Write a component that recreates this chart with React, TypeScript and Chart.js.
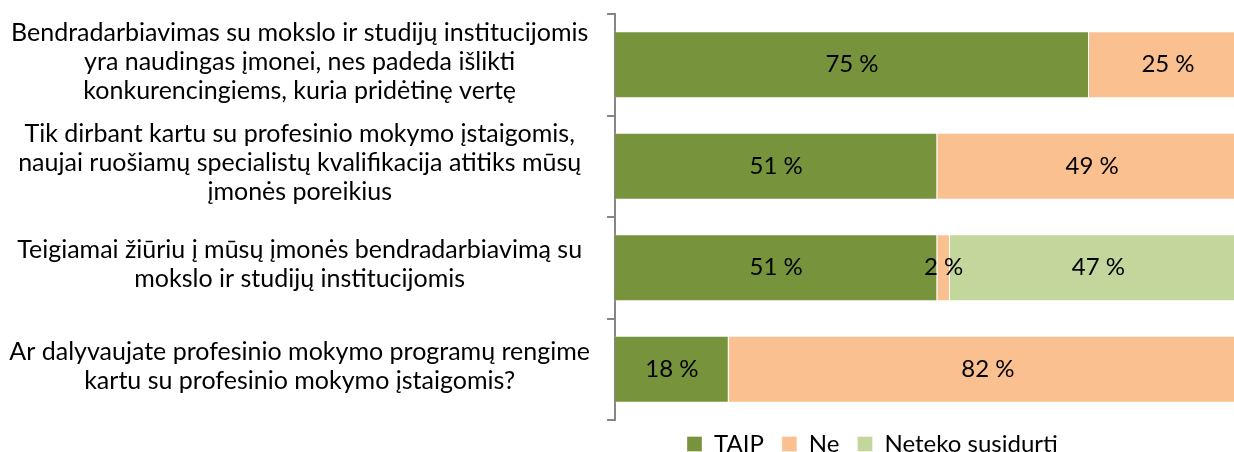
import { useEffect, useRef } from "react";
import { Chart, registerables } from "chart.js";

Chart.register(...registerables);

const FONT = "Lato";

const categories: string[][] = [
  [
    "Bendradarbiavimas su mokslo ir studijų institucijomis",
    "yra naudingas įmonei, nes padeda išlikti",
    "konkurencingiems, kuria pridėtinę vertę",
  ],
  [
    "Tik dirbant kartu su profesinio mokymo įstaigomis,",
    "naujai ruošiamų specialistų kvalifikacija atitiks mūsų",
    "įmonės poreikius",
  ],
  [
    "Teigiamai žiūriu į mūsų įmonės bendradarbiavimą su",
    "mokslo ir studijų institucijomis",
  ],
  [
    "Ar dalyvaujate profesinio mokymo programų rengime",
    "kartu su profesinio mokymo įstaigomis?",
  ],
];

const seriesNames = ["TAIP", "Ne", "Neteko susidurti"];
const taipValues = [75, 51, 51, 18];
const neValues = [25, 49, 2, 82];
const netekoValues = [0, 0, 47, 0];
const seriesColors = ["#77933C", "#FAC090", "#C3D69B"];

const valueLabels = {
  id: "valueLabels",
  afterDatasetsDraw(chart: any) {
    const ctx = chart.ctx;
    ctx.save();
    ctx.font = `24px ${FONT}`;
    ctx.fillStyle = "#000";
    ctx.textAlign = "center";
    ctx.textBaseline = "middle";
    chart.data.datasets.forEach((ds: any, i: number) => {
      const meta = chart.getDatasetMeta(i);
      meta.data.forEach((el: any, j: number) => {
        const v = ds.data[j];
        if (!v) return;
        const { x, base, y } = el.getProps(["x", "base", "y"], true);
        ctx.fillText(`${v} %`, (x + base) / 2, y);
      });
    });
    ctx.restore();
  },
};

const LEGEND_PAD = 18;
const legendPlace = {
  id: "legendPlace",
  afterLayout(chart: any) {
    const lg = chart.legend;
    if (!lg || !lg.lineWidths) return;
    const lw = lg.lineWidths[0];
    const cur = (lg.left + LEGEND_PAD + lg.right - lw) / 2;
    const dx = 687 - cur;
    lg.left += dx;
    lg.right += dx;
    const dy = 444 - (lg.top + LEGEND_PAD + 12);
    lg.top += dy;
    lg.bottom += dy;
  },
};

export default function App() {
  const ref = useRef<HTMLCanvasElement>(null);
  useEffect(() => {
    if (!ref.current) return;
    const datasets = [taipValues, neValues, netekoValues].map((d, i) => ({
      label: seriesNames[i],
      data: d,
      backgroundColor: seriesColors[i],
      borderColor: "rgba(255,255,255,0.35)",
      borderWidth: 1,
      barPercentage: 0.66,
      categoryPercentage: 1,
    }));
    const chart = new Chart(ref.current, {
      type: "bar",
      data: { labels: categories, datasets },
      options: {
        indexAxis: "y",
        animation: false,
        responsive: false,
        maintainAspectRatio: false,
        layout: { padding: { top: 14, left: 0, right: 0, bottom: 0 } },
        font: { family: FONT },
        scales: {
          x: { stacked: true, min: 0, max: 100, display: false },
          y: {
            stacked: true,
            grid: {
              drawOnChartArea: false,
              drawTicks: true,
              tickLength: 8,
              color: "#868686",
              lineWidth: 2,
              offset: true,
            },
            border: { display: true, color: "#868686", width: 2 },
            ticks: {
              crossAlign: "center",
              padding: 17,
              labelOffset: -3,
              color: "#000",
              font: { family: FONT, size: 25, lineHeight: "29px" },
            },
            afterFit(scale: any) {
              scale.width = 615;
              scale.paddingTop = 0;
              scale.paddingBottom = 0;
            },
          },
        },
        plugins: {
          legend: {
            position: "bottom",
            labels: {
              boxWidth: 15,
              boxHeight: 15,
              padding: LEGEND_PAD,
              color: "#000",
              font: { family: FONT, size: 24 },
            },
          },
          tooltip: { enabled: false },
        },
      } as any,
      plugins: [valueLabels, legendPlace],
    });
    return () => chart.destroy();
  }, []);
  return (
    <div
      style={{
        position: "absolute",
        left: 0,
        top: 0,
        width: 1234,
        height: 452,
        overflow: "hidden",
        background: "#fff",
      }}
    >
      <canvas ref={ref} width={1247} height={472} style={{ display: "block" }} />
    </div>
  );
}
